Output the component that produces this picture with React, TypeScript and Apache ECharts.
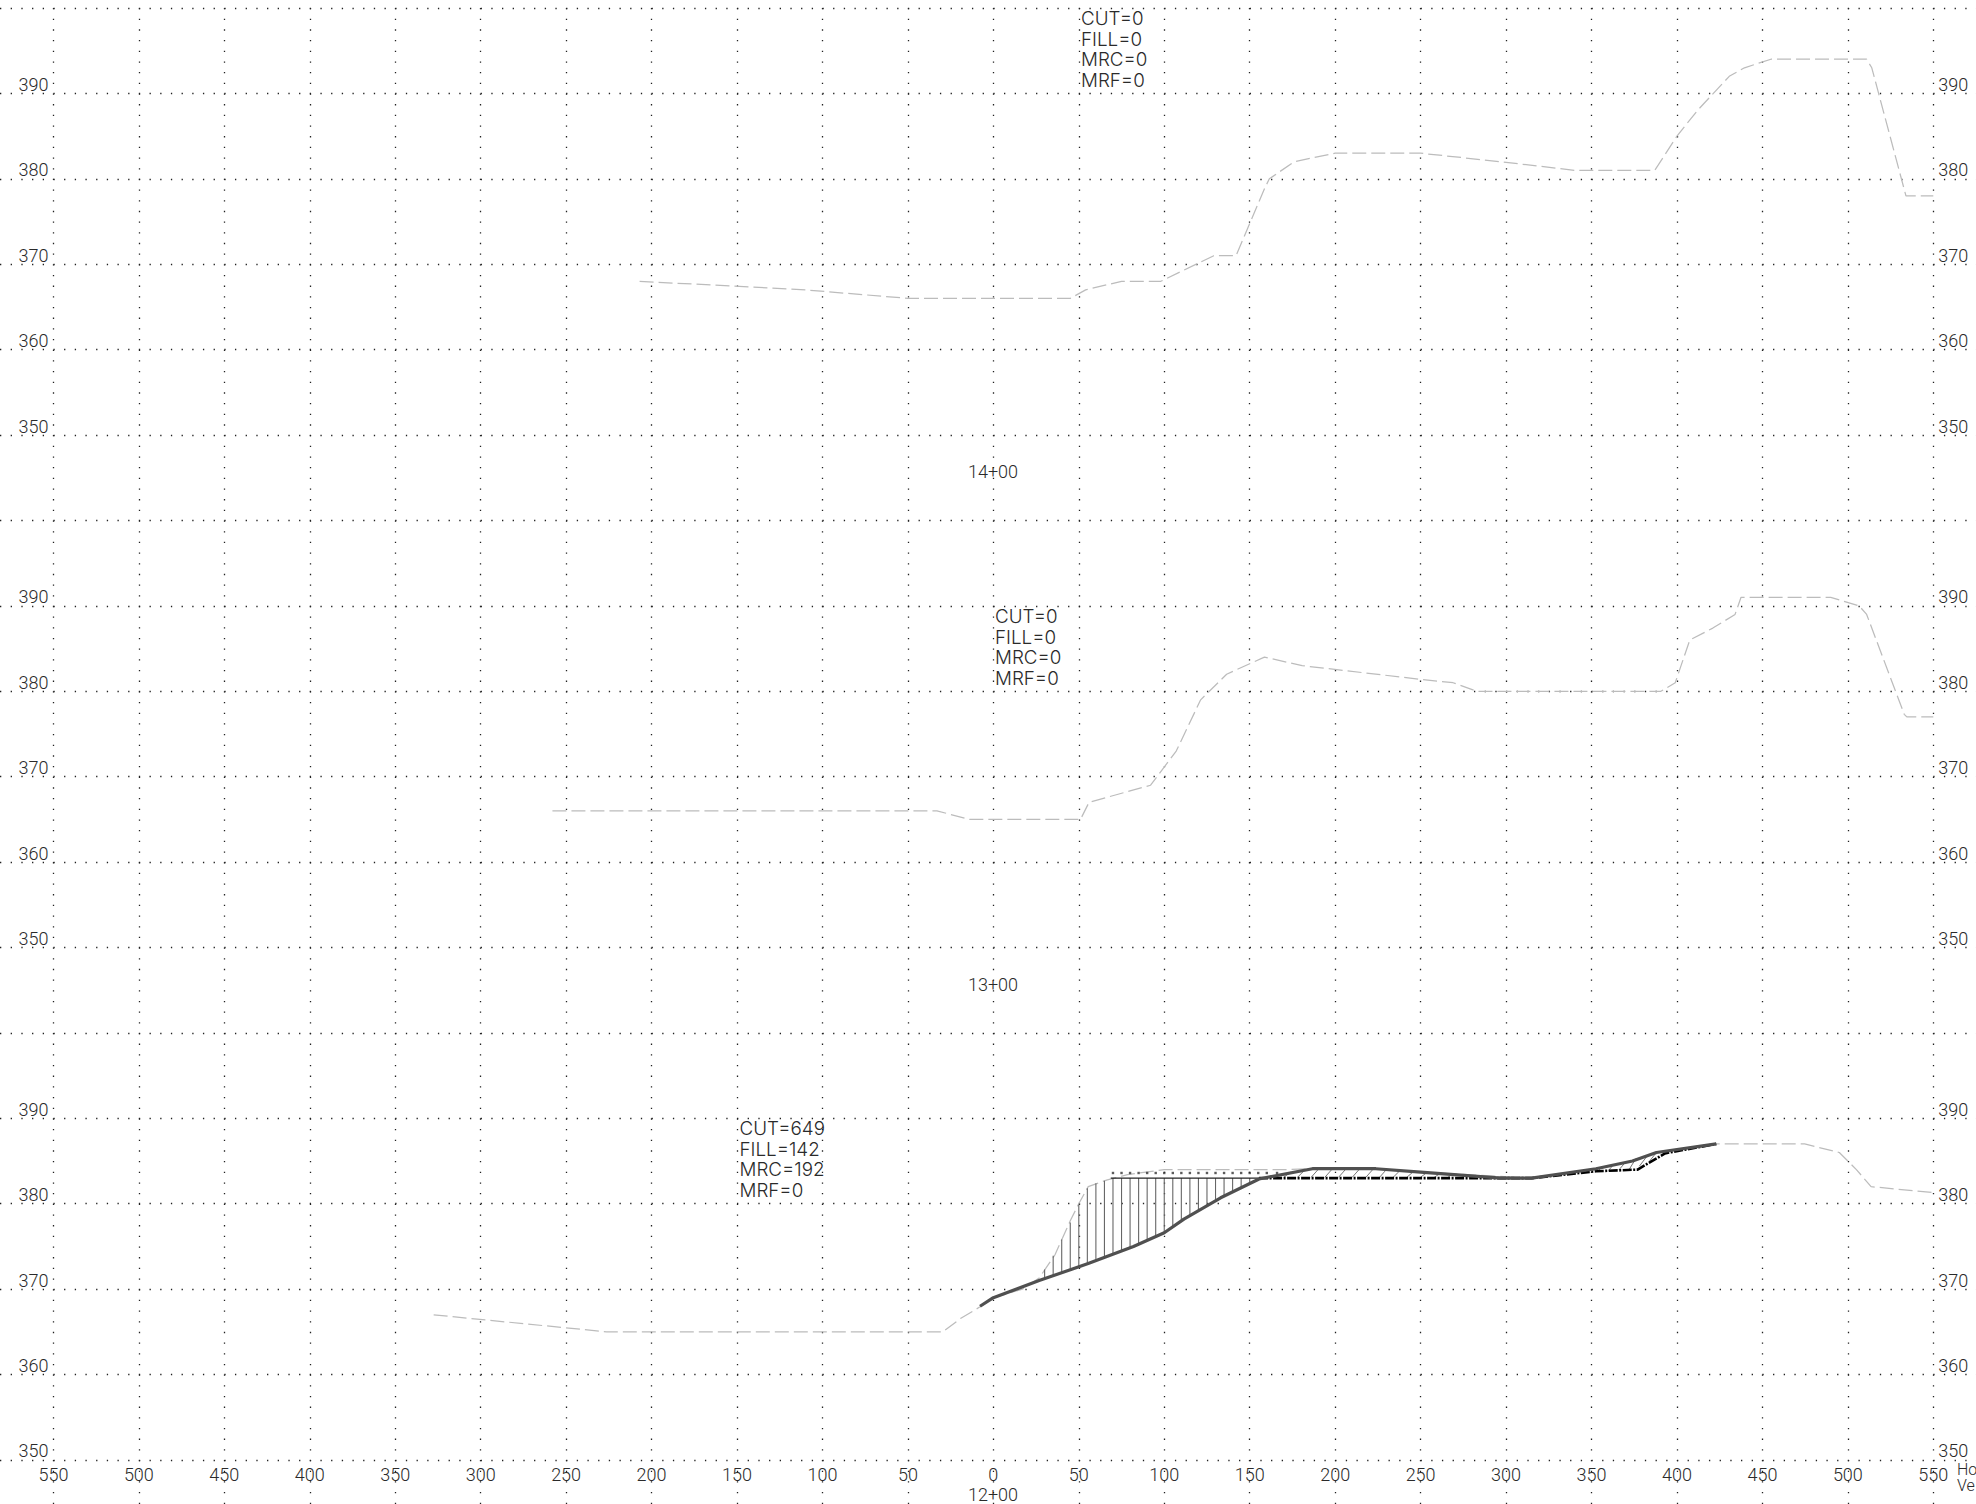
import React, { useEffect, useRef } from "react";
import * as echarts from "echarts";

const W = 1976;
const H = 1504;
const CELL_X = 85.45;
const CELL_Y = 85.41;
const TOP = 8;
const GRID_LEFT = 53.4 - CELL_X;
const FONT = "Roboto, 'Liberation Sans', sans-serif";
const NOTE_FONT = "Inter, Roboto, sans-serif";

const xTickValues = [-550, -500, -450, -400, -350, -300, -250, -200, -150, -100, -50, 0, 50, 100, 150, 200, 250, 300, 350, 400, 450, 500, 550];
const yTickValues = [350, 360, 370, 380, 390];

const panel14Existing = [[-207, 368], [-110, 367], [-50, 366], [45, 366], [54, 367], [75, 368], [98, 368], [129, 371], [142, 371], [159, 379], [161.5, 380], [176, 382], [200, 383], [250, 383], [297, 382], [340, 381], [387, 381], [389, 381.6], [400, 385], [412, 388], [430.6, 392], [439.5, 393], [455, 394], [511, 394], [514, 393], [518, 390], [534, 378], [550, 378]];
const panel13Existing = [[-258, 366], [-33, 366], [-14, 365], [51, 365], [56, 367], [92, 369], [107, 373], [121.3, 379], [136.5, 382], [158.6, 384], [180.7, 383], [250, 381.4], [269, 381], [283, 380], [390.6, 380], [399, 381], [407.5, 386], [421, 387.4], [434, 389], [437.5, 391], [490, 391], [506.6, 390], [511, 389], [533, 377.3], [534.5, 377], [550, 377]];
const panel12Existing = [[-327.5, 367], [-226.4, 365], [-29.5, 365], [-19, 366.6], [-8, 367.9], [0, 369], [17, 370], [26.8, 371.3], [36, 374], [45, 378], [50, 380], [55.5, 382], [66.7, 382.8], [78.5, 383.4], [100, 384], [150, 384], [172, 384], [186.7, 384.1], [223.8, 384.1], [250, 383.7], [315, 383], [352.6, 384.1], [374, 385], [388, 386], [423, 387], [474.7, 387], [495, 386], [505, 384], [513.6, 382], [550, 381.3]];
const panel12Ground = [[-7.8, 368], [0, 369], [26.8, 371], [55.5, 373], [82, 375], [100, 376.6], [111.5, 378.2], [133, 380.7], [155.5, 382.9], [186.7, 384.1], [223.8, 384.1], [250, 383.7], [297, 383], [315, 383], [352.6, 384.1], [374, 385], [388, 386], [423, 387]];
const panel12TemplateThin = [[68.7, 383], [155.5, 383]];
const panel12TemplateHeavy = [[155.5, 383], [315, 383], [352.6, 383.8], [377, 384], [393, 385.9], [423, 387]];

const hatchX = [30, 35, 40, 45, 50, 55, 60, 65, 70, 75, 80, 85, 90, 95, 100, 105, 110, 115, 120, 125, 130, 135, 140, 145, 150];
const hatchTop = [372.3, 373.9, 375.8, 377.8, 379.9, 381.8, 382.4, 382.7, 383, 383, 383, 383, 383, 383, 383, 383, 383, 383, 383, 383, 383, 383, 383, 383, 383];
const hatchBottom = [371.2, 371.6, 371.9, 372.3, 372.6, 373, 373.3, 373.7, 374.1, 374.5, 374.8, 375.3, 375.7, 376.1, 376.6, 377.3, 378, 378.6, 379.2, 379.8, 380.3, 380.9, 381.4, 381.9, 382.4];

const fillDotX = [70, 75, 80, 85, 90, 95, 100, 105, 110, 115, 120, 125, 130, 135, 140, 145, 150, 155, 160, 166];
const fillDotY = [383.6, 383.6, 383.6, 383.6, 383.6, 383.6, 383.6, 383.6, 383.6, 383.6, 383.6, 383.6, 383.6, 383.6, 383.6, 383.6, 383.6, 383.6, 383.6, 383.6];

const slantX1 = [170, 178, 186, 194, 202, 210, 218, 226, 234, 242, 250, 258, 266, 274, 354, 360, 366, 372, 378, 384];
const slantY1 = [383.1, 383.1, 383.1, 383.1, 383.1, 383.1, 383.1, 383.1, 383.1, 383.1, 383.1, 383.1, 383.1, 383.1, 383.85, 383.9, 383.95, 384, 384.4, 385];
const slantX2 = [174, 182, 190, 198, 206, 214, 222, 230, 238, 246, 254, 262, 269, 277, 356, 363, 370, 376, 383, 388];
const slantY2 = [383.7, 383.9, 384, 384, 384, 384, 384, 384, 383.9, 383.8, 383.7, 383.6, 383.5, 383.4, 384.3, 384.6, 384.9, 385.3, 385.7, 386];

const stations = ["14+00", "13+00", "12+00"];
const stationY = [471, 984, 1494];
const quantities = ["CUT=0\nFILL=0\nMRC=0\nMRF=0", "CUT=0\nFILL=0\nMRC=0\nMRF=0", "CUT=649\nFILL=142\nMRC=192\nMRF=0"];
const quantityPos = [[1081, 8.5], [995, 606.5], [739.5, 1118.5]];

const gridLine = { color: "#222", width: 1.3, cap: "butt" };

const segmentItem = (stroke: string, lineWidth: number) => (_: any, api: any) => {
  const a = api.coord([api.value(0), api.value(1)]);
  const b = api.coord([api.value(2), api.value(3)]);
  return { type: "line", shape: { x1: a[0], y1: a[1], x2: b[0], y2: b[1] }, style: { stroke, lineWidth } };
};

function buildOption() {
  const tops = [0, 1, 2].map((i) => TOP + i * 6 * CELL_Y);
  const grid = tops.map((top) => ({ left: GRID_LEFT, top, width: CELL_X * 24, height: CELL_Y * 6, containLabel: false, outerBoundsMode: "none" }));
  const xAxis = tops.map((_, i) => ({
    type: "value",
    gridIndex: i,
    min: -600,
    max: 600,
    interval: 50,
    position: "bottom",
    offset: -CELL_Y,
    axisLine: { show: false },
    axisTick: { show: false },
    axisLabel:
      i === 2
        ? { show: true, customValues: xTickValues, formatter: (v: number) => String(Math.abs(v)), color: "#2a2a2a", fontFamily: FONT, fontWeight: 300, fontSize: 18, margin: 6 }
        : { show: false },
    splitLine: { show: true, lineStyle: { ...gridLine, type: [1.3, 9.376] } },
  }));
  const yLabel = { show: true, customValues: yTickValues, color: "#2a2a2a", fontFamily: FONT, fontWeight: 300, fontSize: 18, margin: 5, verticalAlign: "bottom" as const, lineHeight: 18 };
  const yAxis: any[] = [];
  tops.forEach((_, i) => {
    yAxis.push({
      type: "value", gridIndex: i, min: 340, max: 400, interval: 10, position: "left", offset: -CELL_X,
      axisLine: { show: false }, axisTick: { show: false }, axisLabel: yLabel,
      splitLine: { show: true, showMaxLine: i === 0, lineStyle: { ...gridLine, type: [1.3, 9.381] } },
    });
    yAxis.push({
      type: "value", gridIndex: i, min: 340, max: 400, interval: 10, position: "right", offset: -CELL_X,
      axisLine: { show: false }, axisTick: { show: false }, axisLabel: yLabel, splitLine: { show: false },
    });
  });

  const existing = (data: number[][], i: number) => ({
    type: "line", xAxisIndex: i, yAxisIndex: i * 2, data, symbol: "none", silent: true, z: 3,
    lineStyle: { color: "#bcbcbc", width: 1.25, type: [14, 5] },
  });

  const series: any[] = [
    existing(panel14Existing, 0),
    existing(panel13Existing, 1),
    existing(panel12Existing, 2),
    {
      type: "custom", xAxisIndex: 2, yAxisIndex: 4, silent: true, z: 4,
      data: hatchX.map((x, i) => [x, hatchTop[i], x, hatchBottom[i]]),
      encode: { x: [0, 2], y: [1, 3] }, renderItem: segmentItem("#666", 1.1),
    },
    {
      type: "custom", xAxisIndex: 2, yAxisIndex: 4, silent: true, z: 4,
      data: slantX1.map((x, i) => [x, slantY1[i], slantX2[i], slantY2[i]]),
      encode: { x: [0, 2], y: [1, 3] }, renderItem: segmentItem("#777", 1),
    },
    {
      type: "scatter", xAxisIndex: 2, yAxisIndex: 4, silent: true, z: 4, symbol: "rect", symbolSize: 2.4,
      data: fillDotX.map((x, i) => [x, fillDotY[i]]), itemStyle: { color: "#333" },
    },
    {
      type: "line", xAxisIndex: 2, yAxisIndex: 4, data: panel12TemplateThin, symbol: "none", silent: true, z: 5,
      lineStyle: { color: "#222", width: 1.4 },
    },
    {
      type: "line", xAxisIndex: 2, yAxisIndex: 4, data: panel12TemplateHeavy, symbol: "none", silent: true, z: 5,
      lineStyle: { color: "#000", width: 2.6, type: [9, 1.5, 2, 1.5] },
    },
    {
      type: "line", xAxisIndex: 2, yAxisIndex: 4, data: panel12Ground, symbol: "none", silent: true, z: 6,
      lineStyle: { color: "#505050", width: 3.2 },
    },
  ];

  const textStyle = { fill: "#2a2a2a", fontFamily: FONT, fontWeight: 300, fontSize: 18 };
  const graphic: any[] = [];
  stations.forEach((s, i) => {
    graphic.push({ type: "text", x: 993, y: stationY[i], style: { ...textStyle, text: s, align: "center", verticalAlign: "middle" } });
  });
  quantities.forEach((q, i) => {
    graphic.push({ type: "text", x: quantityPos[i][0], y: quantityPos[i][1], style: { ...textStyle, fontFamily: NOTE_FONT, fontSize: 18.8, text: q, lineHeight: 20.5, align: "left", verticalAlign: "top" } });
  });
  graphic.push({ type: "text", x: 1957, y: 1469, style: { ...textStyle, fontSize: 16, text: "Ho", align: "left", verticalAlign: "middle" } });
  graphic.push({ type: "text", x: 1957, y: 1485, style: { ...textStyle, fontSize: 16, text: "Ve", align: "left", verticalAlign: "middle" } });

  return { animation: false, backgroundColor: "#fff", tooltip: { show: false }, legend: { show: false }, grid, xAxis, yAxis, series, graphic };
}

export default function App() {
  const ref = useRef<HTMLDivElement>(null);
  useEffect(() => {
    const chart = echarts.init(ref.current!, undefined, { renderer: "svg" });
    chart.setOption(buildOption() as any);
    return () => chart.dispose();
  }, []);
  return <div ref={ref} style={{ position: "absolute", left: 0, top: 0, width: W, height: H, overflow: "hidden", background: "#fff" }} />;
}
